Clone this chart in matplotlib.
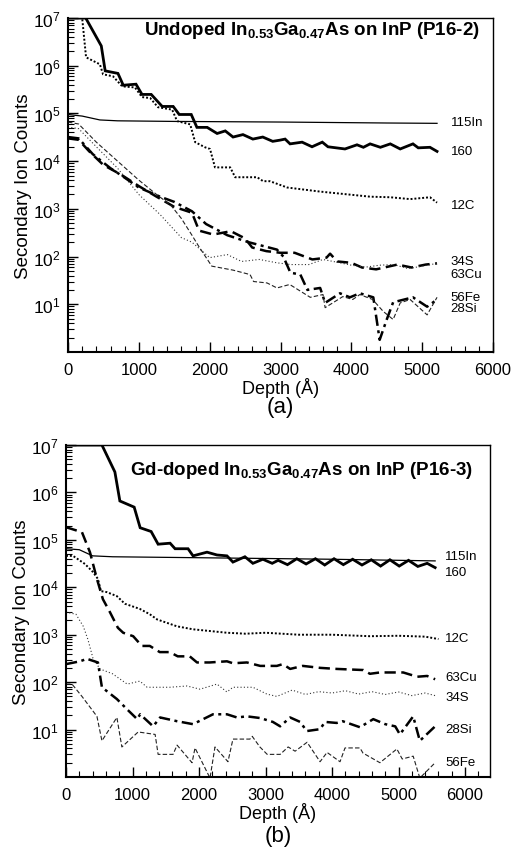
import matplotlib
matplotlib.use('Agg')
import matplotlib.pyplot as plt
from matplotlib.ticker import MultipleLocator, LogLocator, FixedLocator, FuncFormatter, NullFormatter
import numpy as np

plt.rcParams['font.family'] = ['Liberation Sans', 'DejaVu Sans']
plt.rcParams['mathtext.fontset'] = 'custom'
plt.rcParams['mathtext.rm'] = 'Liberation Sans'
plt.rcParams['mathtext.it'] = 'Liberation Sans:italic'
plt.rcParams['mathtext.bf'] = 'Liberation Sans:bold'

# ---------------- Panel (a): undoped P16-2 ----------------
depth_a_160 = [0, 250, 470, 525, 705, 780, 960, 1045, 1175, 1330, 1485, 1570, 1740, 1820, 1965, 2105, 2220, 2330,
               2470, 2610, 2750, 2890, 2990, 3065, 3135, 3305, 3445, 3590, 3670, 3910, 4080, 4170, 4265, 4410,
               4550, 4690, 4870, 4945, 5110, 5210]
counts_a_160 = [1.0e7, 1.0e7, 2.6e6, 7.8e5, 6.9e5, 3.9e5, 4.1e5, 2.5e5, 2.5e5, 1.4e5, 1.4e5, 9.5e4, 9.5e4, 5.1e4,
                5.1e4, 3.8e4, 4.3e4, 3.2e4, 3.6e4, 2.9e4, 3.2e4, 2.6e4, 2.75e4, 2.9e4, 2.3e4, 2.5e4, 2.0e4, 2.5e4,
                2.0e4, 1.8e4, 2.2e4, 1.95e4, 2.3e4, 1.95e4, 2.3e4, 1.8e4, 2.3e4, 1.9e4, 1.95e4, 1.6e4]

depth_a_115in = [0, 200, 450, 700, 1500, 3000, 4500, 5210]
counts_a_115in = [9.5e4, 8.8e4, 7.3e4, 7.0e4, 6.8e4, 6.6e4, 6.3e4, 6.2e4]

depth_a_12c = [0, 200, 255, 450, 495, 635, 765, 945, 1045, 1160, 1270, 1470, 1540, 1725, 1795, 1935, 2005, 2075,
               2290, 2360, 2670, 2755, 2850, 3095, 3560, 4265, 4550, 4830, 5110, 5210]
counts_a_12c = [1.0e7, 1.0e7, 1.5e6, 1.07e6, 6.6e5, 6.0e5, 3.7e5, 3.5e5, 2.2e5, 2.1e5, 1.35e5, 1.2e5, 6.9e4, 5.9e4,
                2.5e4, 1.95e4, 1.8e4, 7.4e3, 7.4e3, 4.6e3, 4.6e3, 3.8e3, 3.8e3, 2.8e3, 2.3e3, 1.8e3, 1.75e3, 1.6e3,
                1.75e3, 1.35e3]

depth_a_63cu = [0, 150, 300, 500, 750, 1000, 1250, 1500, 1750, 1850, 2050, 2300, 2500, 2600, 2800, 3000, 3200,
                3450, 3650, 3700, 3800, 4000, 4150, 4350, 4650, 4850, 5050, 5210]
counts_a_63cu = [3.0e4, 2.8e4, 1.6e4, 8.3e3, 5.2e3, 3.0e3, 1.8e3, 1.1e3, 8.3e2, 3.5e2, 2.9e2, 3.4e2, 2.4e2, 1.55e2,
                 1.3e2, 1.2e2, 1.2e2, 8.7e1, 9.5e1, 1.15e2, 7.9e1, 7.4e1, 5.9e1, 5.4e1, 6.8e1, 5.9e1, 6.8e1, 7.2e1]

depth_a_28si = [0, 150, 350, 600, 800, 1000, 1300, 1500, 1750, 1950, 2250, 2550, 2800, 2950, 3040, 3140, 3280,
                3380, 3560, 3630, 3840, 3980, 4120, 4310, 4400, 4500, 4590, 4870, 5070, 5210]
counts_a_28si = [3.2e4, 3.0e4, 1.4e4, 7.1e3, 4.5e3, 2.8e3, 1.8e3, 1.4e3, 8.9e2, 4.8e2, 2.8e2, 2.0e2, 1.6e2, 1.4e2,
                 1.0e2, 4.6e1, 4.2e1, 2.0e1, 2.2e1, 1.07e1, 1.7e1, 1.4e1, 1.7e1, 1.4e1, 1.8, 4.8, 1.1e1, 1.4e1, 8.9,
                 1.26e1]

depth_a_34s = [0, 150, 400, 700, 1000, 1300, 1600, 1750, 2000, 2250, 2450, 2700, 2950, 3150, 3400, 3600, 3800,
               4000, 4200, 4400, 4600, 4800, 5000, 5210]
counts_a_34s = [5.2e4, 4.8e4, 2.0e4, 7.1e3, 2.0e3, 7.6e2, 2.5e2, 2.0e2, 9.5e1, 1.1e2, 7.9e1, 8.7e1, 7.4e1, 6.8e1,
                6.8e1, 8.7e1, 7.6e1, 6.6e1, 6.0e1, 6.6e1, 6.8e1, 5.6e1, 6.3e1, 7.2e1]

depth_a_56fe = [0, 150, 400, 700, 1000, 1250, 1450, 1600, 1750, 1850, 2030, 2330, 2570, 2620, 2810, 2950, 3130,
                3420, 3600, 3630, 3880, 4020, 4120, 4300, 4450, 4590, 4690, 4830, 5070, 5210]
counts_a_56fe = [6.6e4, 6.0e4, 2.5e4, 1.0e4, 4.0e3, 2.0e3, 1.2e3, 6.3e2, 2.8e2, 1.6e2, 6.3e1, 5.2e1, 4.2e1, 3.0e1,
                 2.8e1, 2.2e1, 2.6e1, 1.4e1, 1.6e1, 8.5, 1.45e1, 1.26e1, 1.6e1, 1.26e1, 7.1, 4.8, 1.07e1, 1.26e1,
                 6.0, 1.4e1]

# ---------------- Panel (b): Gd-doped P16-3 ----------------
depth_b_160 = [0, 540, 735, 810, 1025, 1115, 1280, 1385, 1565, 1640, 1835, 1910, 2120, 2270, 2420, 2510, 2690,
               2810, 2960, 3100, 3190, 3330, 3470, 3610, 3750, 3890, 4030, 4170, 4310, 4450, 4590, 4730, 4870,
               5010, 5150, 5290, 5430, 5550]
counts_b_160 = [1.0e7, 1.0e7, 2.7e6, 6.6e5, 4.9e5, 1.8e5, 1.5e5, 8.1e4, 8.5e4, 6.5e4, 6.5e4, 4.6e4, 5.5e4, 4.8e4,
                4.6e4, 3.4e4, 4.4e4, 3.2e4, 3.9e4, 3.2e4, 3.7e4, 3.0e4, 4.0e4, 3.1e4, 4.0e4, 2.95e4, 4.0e4, 3.0e4,
                3.9e4, 2.95e4, 3.8e4, 2.8e4, 3.8e4, 2.8e4, 3.7e4, 2.75e4, 3.2e4, 2.6e4]

depth_b_115in = [0, 200, 400, 700, 2000, 4000, 5550]
counts_b_115in = [6.5e4, 6.2e4, 4.6e4, 4.4e4, 4.2e4, 3.9e4, 3.6e4]

depth_b_12c = [0, 105, 285, 405, 480, 525, 615, 765, 885, 990, 1110, 1260, 1370, 1670, 1910, 2420, 2700, 3000,
               3500, 4000, 4570, 5000, 5400, 5600]
counts_b_12c = [4.6e4, 4.6e4, 3.1e4, 2.1e4, 1.5e4, 8.3e3, 7.9e3, 6.5e3, 4.5e3, 4.0e3, 3.5e3, 2.7e3, 2.1e3, 1.5e3,
                1.3e3, 1.1e3, 1.05e3, 1.1e3, 1.0e3, 1.0e3, 9.3e2, 9.5e2, 9.1e2, 8.1e2]

depth_b_63cu = [0, 240, 360, 465, 555, 660, 780, 860, 1010, 1140, 1260, 1410, 1560, 1680, 1860, 1970, 2160, 2420,
                2510, 2720, 2920, 3170, 3260, 3370, 3560, 3820, 4070, 4470, 4570, 4720, 5070, 5280, 5430, 5550]
counts_b_63cu = [1.85e5, 1.45e5, 5.5e4, 1.5e4, 5.6e3, 3.0e3, 1.4e3, 1.1e3, 9.3e2, 5.8e2, 5.8e2, 4.3e2, 4.3e2,
                 3.5e2, 3.5e2, 2.6e2, 2.6e2, 2.75e2, 2.5e2, 2.6e2, 2.2e2, 2.2e2, 2.4e2, 1.9e2, 2.2e2, 2.0e2, 1.9e2,
                 1.8e2, 1.5e2, 1.6e2, 1.6e2, 1.3e2, 1.35e2, 1.15e2]

depth_b_34s = [0, 150, 260, 330, 405, 510, 700, 920, 1110, 1220, 1560, 1820, 2015, 2270, 2420, 2510, 2810, 3020,
               3170, 3400, 3600, 3800, 4000, 4200, 4400, 4600, 4800, 5000, 5200, 5400, 5550]
counts_b_34s = [3.0e3, 2.7e3, 1.5e3, 7.9e2, 3.2e2, 1.9e2, 1.5e2, 9.1e1, 1.05e2, 7.8e1, 7.8e1, 8.3e1, 7.1e1, 9.1e1,
                6.2e1, 7.8e1, 7.8e1, 5.6e1, 5.0e1, 6.8e1, 5.5e1, 6.3e1, 5.9e1, 6.6e1, 5.6e1, 6.3e1, 5.5e1, 6.2e1,
                5.2e1, 5.9e1, 5.2e1]

depth_b_28si = [0, 210, 315, 480, 540, 765, 915, 1070, 1115, 1310, 1415, 1670, 1910, 2210, 2420, 2570, 2720, 2920,
                3110, 3220, 3370, 3520, 3620, 3820, 3895, 4070, 4160, 4420, 4620, 4800, 4950, 5020, 5220, 5320, 5550]
counts_b_28si = [2.4e2, 2.75e2, 3.1e2, 2.6e2, 7.8e1, 4.4e1, 2.7e1, 1.66e1, 2.1e1, 1.17e1, 1.8e1, 1.5e1, 1.3e1,
                 2.1e1, 2.1e1, 1.8e1, 1.9e1, 1.75e1, 1.45e1, 1.17e1, 1.8e1, 1.45e1, 9.3, 1.02e1, 1.45e1, 1.38e1,
                 1.5e1, 1.12e1, 1.66e1, 1.3e1, 1.17e1, 7.9, 1.9e1, 5.8, 1.17e1]

depth_b_56fe = [0, 90, 240, 465, 540, 765, 840, 1085, 1340, 1385, 1610, 1670, 1895, 1940, 2165, 2240, 2435, 2510,
                2765, 2800, 2915, 3025, 3220, 3340, 3445, 3625, 3820, 3925, 4120, 4195, 4420, 4465, 4720, 4975,
                5055, 5220, 5320, 5550]
counts_b_56fe = [9.1e1, 9.1e1, 5.0e1, 1.9e1, 5.8, 1.8e1, 4.3, 8.9, 7.9, 3.0, 3.0, 4.7, 2.0, 4.1, 0.95, 4.3, 2.1,
                 6.3, 6.3, 7.2, 4.3, 3.0, 3.0, 4.3, 3.5, 5.4, 2.1, 3.3, 2.1, 4.1, 4.1, 3.2, 2.0, 3.9, 2.4, 2.75,
                 0.95, 2.0]

species_names = ['115In', '160', '12C', '63Cu', '34S', '28Si', '56Fe']

# label heights (counts) next to curve ends
label_y_a = {'115In': 6.6e4, '160': 1.6e4, '12C': 1.23e3, '34S': 8.0e1, '63Cu': 4.4e1, '56Fe': 1.45e1, '28Si': 8.5}
label_y_b = {'115In': 4.6e4, '160': 2.1e4, '12C': 8.5e2, '63Cu': 1.3e2, '34S': 4.8e1, '28Si': 1.02e1, '56Fe': 2.05}

styles = {
    '160':   dict(color='black', lw=2.0, ls='-'),
    '115In': dict(color='black', lw=0.9, ls='-'),
    '12C':   dict(color='black', lw=1.4, ls=(0, (1.0, 1.0))),
    '63Cu':  dict(color='black', lw=1.8, ls=(0, (4.5, 2.2))),
    '28Si':  dict(color='black', lw=1.8, ls=(0, (4.5, 1.8, 1.2, 1.8))),
    '34S':   dict(color='#333333', lw=0.8, ls=(0, (1.0, 2.0))),
    '56Fe':  dict(color='#222222', lw=0.8, ls=(0, (4.0, 2.0))),
}

series_a = {
    '115In': (depth_a_115in, counts_a_115in), '160': (depth_a_160, counts_a_160),
    '12C': (depth_a_12c, counts_a_12c), '63Cu': (depth_a_63cu, counts_a_63cu),
    '34S': (depth_a_34s, counts_a_34s), '28Si': (depth_a_28si, counts_a_28si),
    '56Fe': (depth_a_56fe, counts_a_56fe),
}
series_b = {
    '115In': (depth_b_115in, counts_b_115in), '160': (depth_b_160, counts_b_160),
    '12C': (depth_b_12c, counts_b_12c), '63Cu': (depth_b_63cu, counts_b_63cu),
    '34S': (depth_b_34s, counts_b_34s), '28Si': (depth_b_28si, counts_b_28si),
    '56Fe': (depth_b_56fe, counts_b_56fe),
}

W, H = 525, 854
fig = plt.figure(figsize=(W / 100, H / 100), dpi=100)


def make_axes(l, t, r, b):
    return fig.add_axes([l / W, 1 - b / H, (r - l) / W, (b - t) / H])


def log_fmt(v, pos):
    e = int(round(np.log10(v)))
    return r'$\mathregular{10^{%d}}$' % e


def draw_panel(ax, series, xmax, title, title_x, title_y, label_x, label_y, letter, letter_y):
    for name in species_names:
        d, c = series[name]
        ax.plot(d, c, solid_joinstyle='miter', dash_capstyle='butt', **styles[name])
        ax.text(label_x, label_y[name], name, fontsize=9.5, ha='left', va='center', clip_on=False)
    ax.set_yscale('log')
    ax.set_ylim(1, 1e7)
    ax.set_xlim(0, xmax)
    ax.xaxis.set_major_locator(FixedLocator([0, 1000, 2000, 3000, 4000, 5000, 6000]))
    ax.xaxis.set_minor_locator(MultipleLocator(200))
    ax.yaxis.set_major_locator(FixedLocator([1e1, 1e2, 1e3, 1e4, 1e5, 1e6, 1e7]))
    ax.yaxis.set_minor_locator(LogLocator(base=10, subs=np.arange(2, 10), numticks=20))
    ax.yaxis.set_major_formatter(FuncFormatter(log_fmt))
    ax.yaxis.set_minor_formatter(NullFormatter())
    ax.tick_params(axis='x', which='both', direction='in', top=False, labelsize=12, pad=7)
    ax.tick_params(axis='y', which='both', direction='in', right=False, labelsize=12.5, pad=5)
    ax.tick_params(which='major', length=7, width=1.0)
    ax.tick_params(which='minor', length=4, width=0.8)
    for s in ['left', 'bottom']:
        ax.spines[s].set_linewidth(1.5)
    for s in ['top', 'right']:
        ax.spines[s].set_linewidth(1.0)
    ax.set_xlabel('Depth (Å)', fontsize=13, labelpad=0)
    ax.set_ylabel('Secondary Ion Counts', fontsize=13.5, labelpad=1)
    ax.text(title_x, title_y, title, transform=ax.transAxes, ha='right', va='baseline',
            fontsize=13.5, fontweight='bold')
    fig.text(ax.get_position().x0 + ax.get_position().width / 2, letter_y, letter,
             ha='center', va='center', fontsize=16)


ax_a = make_axes(68, 19, 493, 353)
draw_panel(ax_a, series_a, 6000,
           r'Undoped In$_{\mathbf{0.53}}$Ga$_{\mathbf{0.47}}$As on InP (P16-2)',
           0.97, 0.952, 5400, label_y_a, '(a)', 1 - 408 / H)

ax_b = make_axes(66, 446, 490, 778)
draw_panel(ax_b, series_b, 6375,
           r'Gd-doped In$_{\mathbf{0.53}}$Ga$_{\mathbf{0.47}}$As on InP (P16-3)',
           0.96, 0.913, 5700, label_y_b, '(b)', 1 - 837 / H)

fig.savefig('out.png', dpi=100)
